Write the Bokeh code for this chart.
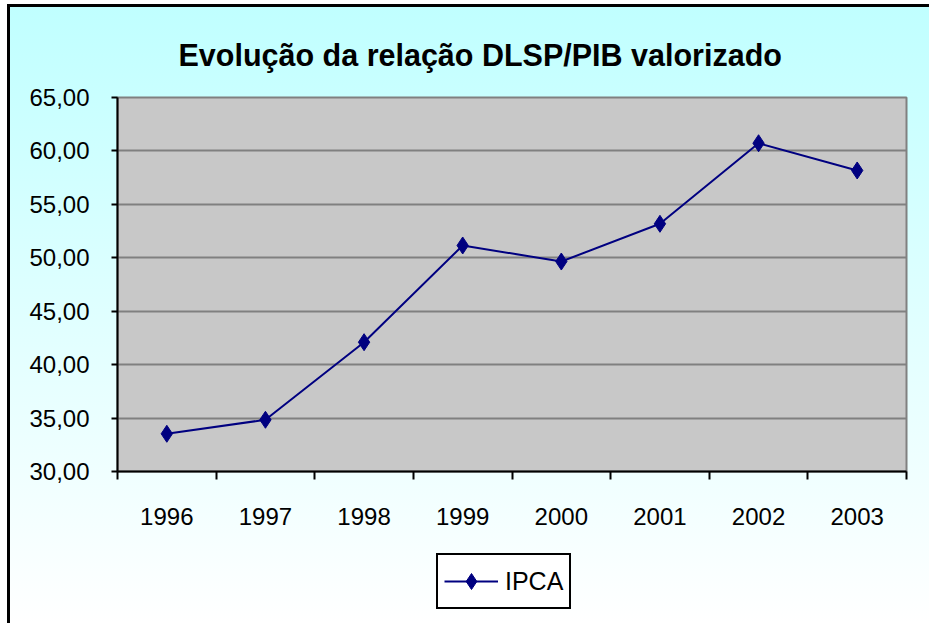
from bokeh.plotting import figure
from bokeh.layouts import column
from bokeh.models import (Range1d, LinearAxis, FixedTicker, Legend, LegendItem)
from bokeh.embed import file_html
from bokeh.resources import INLINE

years = [1996, 1997, 1998, 1999, 2000, 2001, 2002, 2003]
year_labels = ["1996", "1997", "1998", "1999", "2000", "2001", "2002", "2003"]
ipca = [33.53, 34.84, 42.10, 51.15, 49.65, 53.18, 60.72, 58.17]
y_ticks = [30, 35, 40, 45, 50, 55, 60, 65]
y_tick_labels = ["30,00", "35,00", "40,00", "45,00", "50,00", "55,00", "60,00", "65,00"]
series_name = "IPCA"
title_text = "Evolução da relação DLSP/PIB valorizado"

FONT = "Liberation Sans"
NAVY = "#000080"

x_start = years[0] - 0.5
x_end = years[-1] + 0.5
boundary_ticks = [y - 0.5 for y in years] + [x_end]

p = figure(width=929, height=545,
           x_range=Range1d(x_start, x_end), y_range=Range1d(30, 65),
           output_backend="svg", toolbar_location=None,
           x_axis_location=None, y_axis_location="left",
           min_border_left=117, min_border_right=23,
           min_border_top=97, min_border_bottom=74)

p.border_fill_color = None
p.background_fill_color = "#C8C8C8"
p.outline_line_color = "#808080"
p.outline_line_width = 2

p.title.text = title_text
p.title.text_font = FONT
p.title.text_font_size = "30.5px"
p.title.text_font_style = "bold"
p.title.text_color = "#000000"
p.title.align = "left"
p.title.offset = 61
p.title.standoff = 52

# y axis
ya = p.yaxis[0]
ya.ticker = FixedTicker(ticks=y_ticks)
ya.major_label_overrides = {t: l for t, l in zip(y_ticks, y_tick_labels)}
ya.major_label_text_font = FONT
ya.major_label_text_font_size = "24px"
ya.major_label_text_color = "#000000"
ya.axis_line_color = "#000000"
ya.axis_line_width = 2
ya.major_tick_line_color = "#000000"
ya.major_tick_line_width = 2
ya.major_tick_out = 6
ya.major_tick_in = 0
ya.minor_tick_line_color = None
ya.major_label_standoff = 22

p.ygrid.ticker = FixedTicker(ticks=y_ticks)
p.ygrid.grid_line_color = "#808080"
p.ygrid.grid_line_width = 2
p.xgrid.grid_line_color = None

# x axis: ticks at category boundaries, labels at category centres
tick_axis = LinearAxis(ticker=FixedTicker(ticks=boundary_ticks),
                       major_label_overrides={t: "" for t in boundary_ticks},
                       major_label_text_font_size="1px",
                       major_label_standoff=0,
                       axis_line_color="#000000", axis_line_width=2,
                       major_tick_line_color="#000000", major_tick_line_width=2,
                       major_tick_out=8, major_tick_in=0,
                       minor_tick_line_color=None)
p.add_layout(tick_axis, "below")

lab_axis = LinearAxis(ticker=FixedTicker(ticks=years),
                      major_label_overrides={y: l for y, l in zip(years, year_labels)},
                      axis_line_color=None, major_tick_line_color=None,
                      minor_tick_line_color=None,
                      major_tick_out=0, major_tick_in=0,
                      major_label_text_font=FONT,
                      major_label_text_font_size="24px",
                      major_label_text_color="#000000",
                      major_label_standoff=28)
p.add_layout(lab_axis, "below")

p.line(years, ipca, line_color=NAVY, line_width=2)
p.scatter(years, ipca, marker="diamond", size=17, fill_color=NAVY, line_color=NAVY)

# legend strip below the chart (its series lies outside this strip's ranges,
# so only the legend entry is visible)
p2 = figure(width=929, height=78, x_range=Range1d(0, 1), y_range=Range1d(0, 1),
            output_backend="svg", toolbar_location=None,
            x_axis_location=None, y_axis_location=None,
            min_border_left=0, min_border_right=0,
            min_border_top=0, min_border_bottom=0)
p2.border_fill_color = None
p2.background_fill_color = None
p2.outline_line_color = None
p2.xgrid.visible = False
p2.ygrid.visible = False
leg_line = p2.line(years, ipca, line_color=NAVY, line_width=2)
leg_mark = p2.scatter(years, ipca, marker="diamond", size=17,
                      fill_color=NAVY, line_color=NAVY)

legend = Legend(items=[LegendItem(label=series_name, renderers=[leg_line, leg_mark])],
                location=(319, 14), orientation="horizontal",
                label_text_font=FONT, label_text_font_size="25px",
                label_text_color="#000000",
                glyph_width=54, glyph_height=40, label_standoff=7,
                padding=6, margin=0,
                border_line_color="#000000", border_line_width=2,
                border_line_alpha=1,
                background_fill_color="#FFFFFF", background_fill_alpha=1)
p2.add_layout(legend, "center")

layout = column(p, p2, spacing=0)
layout.styles = {
    "background": ("linear-gradient(#000000, #000000) 7px 4px / 3px calc(100% - 4px) no-repeat, "
                   "linear-gradient(#000000, #000000) 7px 4px / calc(100% - 7px) 3px no-repeat, "
                   "linear-gradient(#C0FFFF, #FFFFFF) 10px 7px / calc(100% - 10px) calc(100% - 7px) no-repeat, "
                   "#FFFFFF"),
}

open("out.html", "w").write(file_html(layout, INLINE))
